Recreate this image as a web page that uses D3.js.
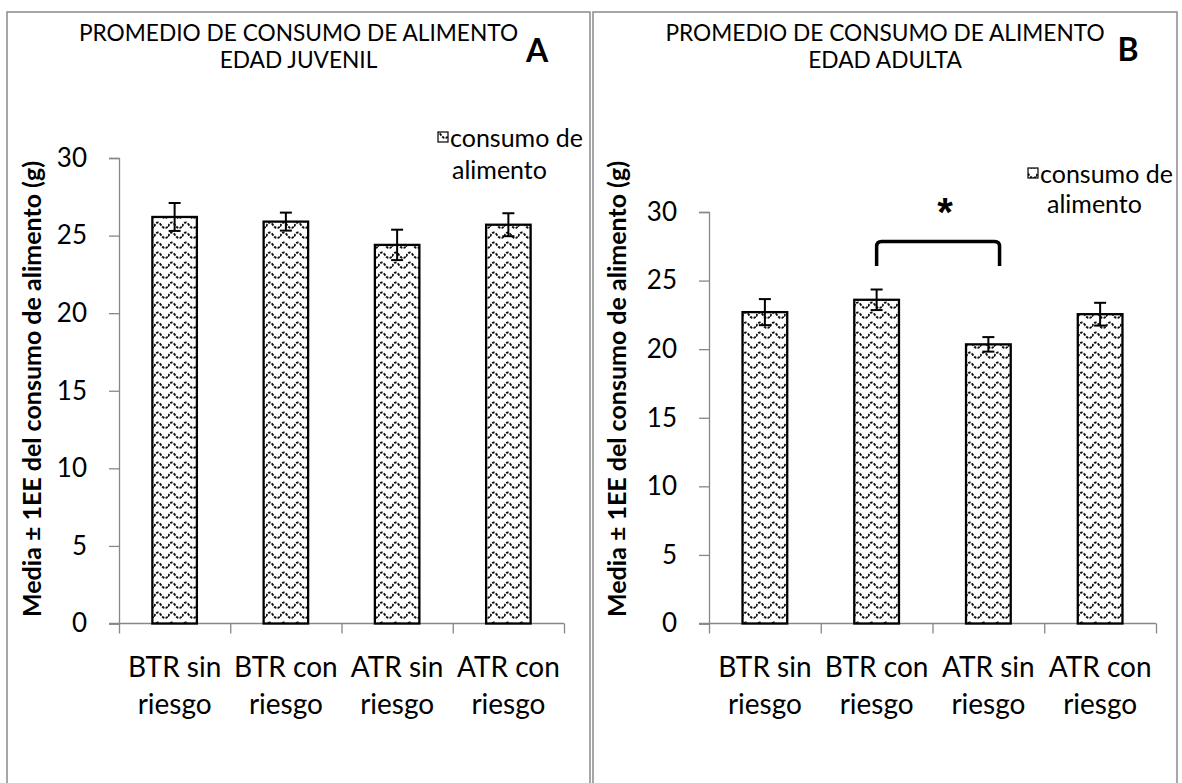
<!DOCTYPE html>
<html>
<head>
<meta charset="utf-8">
<script src="https://cdn.jsdelivr.net/npm/d3@7"></script>
<style>
  body { margin: 0; background: #fff; }
  svg { display: block; }
  text { font-family: Lato, "Open Sans", sans-serif; fill: #000; }
</style>
</head>
<body>
<svg id="chart" width="1182" height="783"></svg>
<script>
// categorias del eje x (dos lineas cada una)
var categories = ['BTR sin riesgo', 'BTR con riesgo', 'ATR sin riesgo', 'ATR con riesgo'];
var categoryLines = [['BTR sin', 'riesgo'], ['BTR con', 'riesgo'], ['ATR sin', 'riesgo'], ['ATR con', 'riesgo']];

// edad juvenil (A)
var juvenilMeans  = [26.2, 25.9, 24.4, 25.7];
var juvenilErrors = [0.9, 0.58, 0.98, 0.74];

// edad adulta (B)
var adultaMeans  = [22.7, 23.6, 20.35, 22.55];
var adultaErrors = [0.95, 0.75, 0.53, 0.83];

var yTicks = [0, 5, 10, 15, 20, 25, 30];
var seriesName = ['consumo de', 'alimento'];
var yLabel = 'Media \u00b1 1EE del consumo de alimento (g)';

// diferencia significativa en B: entre BTR con riesgo y ATR sin riesgo
var adultaSignif = [{ from: 'BTR con riesgo', to: 'ATR sin riesgo', low: 26.07, high: 27.85, mark: '*', markAt: 30.5 }];

var panels = [
  {
    title: ['PROMEDIO DE CONSUMO DE ALIMENTO', 'EDAD JUVENIL'], letter: 'A',
    means: juvenilMeans, errors: juvenilErrors, signif: [],
    box: { x0: 7, x1: 590 }, axisLeft: 119, axisRight: 564, yTop: 158, yBottom: 623.5,
    letterX: 537, letterY: 62, legendX: 438, legendY: [147, 179], legendLine2X: 452,
    labelX: 32
  },
  {
    title: ['PROMEDIO DE CONSUMO DE ALIMENTO', 'EDAD ADULTA'], letter: 'B',
    means: adultaMeans, errors: adultaErrors, signif: adultaSignif,
    box: { x0: 593, x1: 1177 }, axisLeft: 709, axisRight: 1156, yTop: 212, yBottom: 623.5,
    letterX: 1128, letterY: 61, legendX: 1028, legendY: [183, 213], legendLine2X: 1047,
    labelX: 617
  }
];

var svg = d3.select('#chart');

// trama ondulada de las barras
var defs = svg.append('defs');
var pat = defs.append('pattern')
    .attr('id', 'wave')
    .attr('patternUnits', 'userSpaceOnUse')
    .attr('width', 14)
    .attr('height', 10);
pat.append('rect').attr('width', 14).attr('height', 10).attr('fill', '#fff');
pat.append('path')
    .attr('d', 'M0,6.5 C2.4,1.5 4.6,1.5 7,5 S11.6,9 14,6.5')
    .attr('fill', 'none')
    .attr('stroke', '#111')
    .attr('stroke-width', 2)
    .attr('stroke-dasharray', '2.6,1.3');

var axisColor = '#878787';

panels.forEach(function(p) {
  var g = svg.append('g');

  // marco del panel
  g.append('rect')
      .attr('x', p.box.x0)
      .attr('y', 12)
      .attr('width', p.box.x1 - p.box.x0)
      .attr('height', 800)
      .attr('fill', 'none')
      .attr('stroke', '#8a8a8a')
      .attr('stroke-width', 1.5);

  var cx = (p.box.x0 + p.box.x1) / 2;

  // titulo
  g.selectAll('text.title').data(p.title).enter().append('text')
      .attr('class', 'title')
      .attr('x', cx)
      .attr('y', function(d, i) { return 41 + i * 27; })
      .attr('text-anchor', 'middle')
      .style('font-size', '22.7px')
      .text(function(d) { return d; });

  g.append('text')
      .attr('x', p.letterX)
      .attr('y', p.letterY)
      .attr('text-anchor', 'middle')
      .style('font-size', '32px')
      .style('font-weight', 'bold')
      .text(p.letter);

  // escalas
  var y = d3.scaleLinear().domain([0, 30]).range([p.yBottom, p.yTop]);
  var x = d3.scaleBand()
      .domain(categories)
      .range([p.axisLeft, p.axisRight])
      .paddingInner(0.6)
      .paddingOuter(0.3);
  var xb = d3.scaleLinear().domain([0, categories.length]).range([p.axisLeft, p.axisRight]);

  // eje y
  var yAxis = g.append('g')
      .attr('transform', 'translate(' + p.axisLeft + ',0)')
      .call(d3.axisLeft(y).tickValues(yTicks).tickSize(10).tickPadding(22));
  yAxis.select('.domain').attr('stroke', axisColor).attr('stroke-width', 1.3);
  yAxis.selectAll('.tick line').attr('stroke', axisColor).attr('stroke-width', 1.3);
  yAxis.selectAll('.tick text')
      .attr('fill', '#000')
      .style('font-family', 'Lato, sans-serif')
      .style('font-size', '26px');

  // eje x: marcas entre categorias
  var xAxis = g.append('g')
      .attr('transform', 'translate(0,' + p.yBottom + ')')
      .call(d3.axisBottom(xb).tickValues(d3.range(categories.length + 1)).tickSize(10).tickFormat(''));
  xAxis.select('.domain').attr('stroke', axisColor).attr('stroke-width', 1.3)
      .attr('d', 'M' + (p.axisLeft - 10) + ',0H' + p.axisRight);
  xAxis.selectAll('.tick line').attr('stroke', axisColor).attr('stroke-width', 1.3);

  // etiquetas de categorias
  var lbl = g.selectAll('text.cat').data(categories).enter().append('text')
      .attr('class', 'cat')
      .attr('text-anchor', 'middle')
      .style('font-size', '28px');
  lbl.selectAll('tspan').data(function(d, i) { return categoryLines[i]; }).enter().append('tspan')
      .attr('x', function() { return x(this.parentNode.__data__) + x.bandwidth() / 2; })
      .attr('y', function(d, i) { return p.yBottom + 53 + i * 37; })
      .text(function(d) { return d; });

  // barras
  var rows = categories.map(function(c, i) { return { cat: c, mean: p.means[i], err: p.errors[i] }; });

  g.selectAll('rect.bar').data(rows).enter().append('rect')
      .attr('class', 'bar')
      .attr('x', function(d) { return x(d.cat); })
      .attr('y', function(d) { return y(d.mean); })
      .attr('width', x.bandwidth())
      .attr('height', function(d) { return y(0) - y(d.mean); })
      .attr('fill', 'url(#wave)')
      .attr('stroke', '#000')
      .attr('stroke-width', 2.3);

  // barras de error
  var eb = g.selectAll('g.err').data(rows).enter().append('g')
      .attr('class', 'err')
      .attr('stroke', '#000')
      .attr('stroke-width', 2);
  eb.append('line')
      .attr('x1', function(d) { return x(d.cat) + x.bandwidth() / 2; })
      .attr('x2', function(d) { return x(d.cat) + x.bandwidth() / 2; })
      .attr('y1', function(d) { return y(d.mean + d.err); })
      .attr('y2', function(d) { return y(d.mean - d.err); });
  [1, -1].forEach(function(s) {
    eb.append('line')
        .attr('x1', function(d) { return x(d.cat) + x.bandwidth() / 2 - 6; })
        .attr('x2', function(d) { return x(d.cat) + x.bandwidth() / 2 + 6; })
        .attr('y1', function(d) { return y(d.mean + s * d.err); })
        .attr('y2', function(d) { return y(d.mean + s * d.err); });
  });

  // llave de significancia
  p.signif.forEach(function(s) {
    var xa = x(s.from) + x.bandwidth() / 2;
    var xz = x(s.to) + x.bandwidth() * 0.75;
    var yh = y(s.high), yl = y(s.low), r = 5;
    g.append('path')
        .attr('d', 'M' + xa + ',' + yl + 'V' + (yh + r) + 'Q' + xa + ',' + yh + ' ' + (xa + r) + ',' + yh +
                   'H' + (xz - r) + 'Q' + xz + ',' + yh + ' ' + xz + ',' + (yh + r) + 'V' + yl)
        .attr('fill', 'none')
        .attr('stroke', '#000')
        .attr('stroke-width', 3.5);
    g.append('text')
        .attr('x', (xa + xz) / 2 + 7)
        .attr('y', y(s.markAt))
        .attr('dy', '0.52em')
        .attr('text-anchor', 'middle')
        .style('font-family', '"Liberation Sans", Arial, sans-serif')
        .style('font-size', '40px')
        .style('font-weight', 'bold')
        .text(s.mark);
  });

  // leyenda
  g.append('rect')
      .attr('x', p.legendX)
      .attr('y', p.legendY[0] - 15)
      .attr('width', 10)
      .attr('height', 10)
      .attr('fill', 'url(#wave)')
      .attr('stroke', '#000')
      .attr('stroke-width', 1.2);
  g.append('text')
      .attr('x', p.legendX + 12)
      .attr('y', p.legendY[0])
      .style('font-size', '25px')
      .text(seriesName[0]);
  g.append('text')
      .attr('x', p.legendLine2X)
      .attr('y', p.legendY[1])
      .style('font-size', '25px')
      .text(seriesName[1]);

  // titulo del eje y
  g.append('text')
      .attr('transform', 'translate(' + p.labelX + ',389) rotate(-90)')
      .attr('text-anchor', 'middle')
      .attr('dy', '0.35em')
      .style('font-size', '25px')
      .style('font-weight', 'bold')
      .text(yLabel);
});
</script>
</body>
</html>
